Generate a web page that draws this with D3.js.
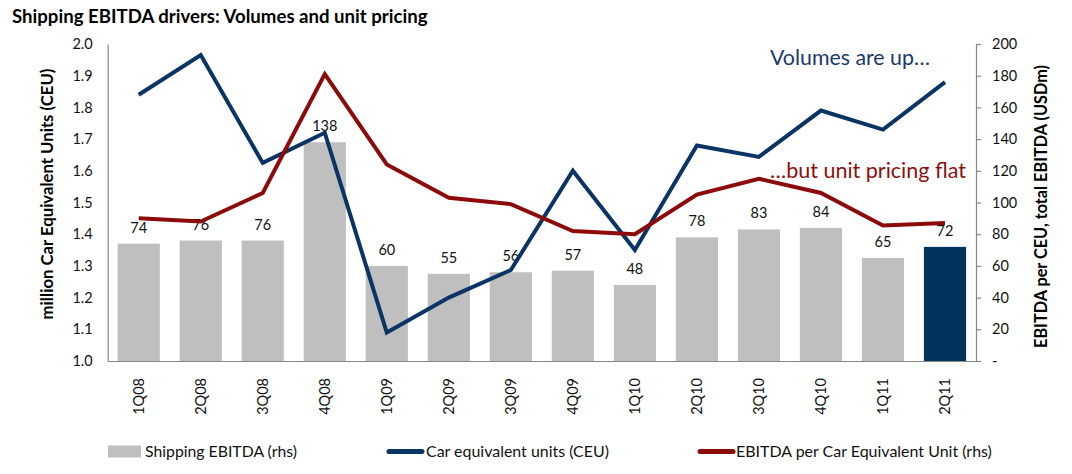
<!DOCTYPE html>
<html><head><meta charset="utf-8">
<script src="https://cdn.jsdelivr.net/npm/d3@7/dist/d3.min.js"></script>
<style>body{margin:0;background:#fff}svg{display:block;font-family:Lato, "Open Sans", sans-serif}</style>
</head><body><svg id="c" width="1072" height="474"></svg>
<script>
const categories = ["1Q08","2Q08","3Q08","4Q08","1Q09","2Q09","3Q09","4Q09","1Q10","2Q10","3Q10","4Q10","1Q11","2Q11"];
const shippingEbitda = [74,76,76,138,60,55,56,57,48,78,83,84,65,72];
const carEquivalentUnits = [1.84,1.965,1.625,1.72,1.09,1.20,1.287,1.60,1.35,1.68,1.644,1.79,1.73,1.88];
const ebitdaPerCeu = [90,88,106,181,124,103,99,82,80,105,115,106,85.5,87];
const leftTicks = [1.0,1.1,1.2,1.3,1.4,1.5,1.6,1.7,1.8,1.9,2.0];
const rightTicks = [0,20,40,60,80,100,120,140,160,180,200];

const NAVY = "#0a3464", RED = "#8c0a0a", GREY = "#bfbfbf", AXIS = "#868686", TXT = "#111";
const svg = d3.select("#c");
const L = 107.7, R = 976, T = 44, B = 361;

const x = d3.scaleBand().domain(categories).range([L, R]).paddingInner(0.32).paddingOuter(0.16);
const yL = d3.scaleLinear().domain([1.0, 2.0]).range([B, T]);
const yR = d3.scaleLinear().domain([0, 200]).range([B, T]);

function fit(sel, target) {
  const w = sel.node().getComputedTextLength();
  const fs = parseFloat(sel.attr("font-size"));
  sel.attr("font-size", (fs * target / w).toFixed(2));
  return sel;
}

// title
fit(svg.append("text").attr("x", 12).attr("y", 23).attr("font-size", 18).attr("font-weight", "bold")
  .attr("fill", "#000").text("Shipping EBITDA drivers: Volumes and unit pricing"), 416);

// bars
svg.append("g").selectAll("rect").data(categories).join("rect")
  .attr("x", d => x(d)).attr("width", x.bandwidth())
  .attr("y", (d, i) => yR(shippingEbitda[i])).attr("height", (d, i) => B - yR(shippingEbitda[i]))
  .attr("fill", (d, i) => i === categories.length - 1 ? "#02335f" : GREY);

// bar labels
svg.append("g").selectAll("text").data(categories).join("text")
  .attr("x", d => x(d) + x.bandwidth() / 2).attr("y", (d, i) => yR(shippingEbitda[i]) - 11)
  .attr("text-anchor", "middle").attr("font-size", 14.5).attr("fill", TXT)
  .text((d, i) => shippingEbitda[i]);

// axes
const gL = svg.append("g").attr("transform", `translate(${L},0)`)
  .call(d3.axisLeft(yL).tickValues(leftTicks).tickFormat(d3.format(".1f")).tickSize(0).tickPadding(15));
const gR = svg.append("g").attr("transform", `translate(${R},0)`)
  .call(d3.axisRight(yR).tickValues(rightTicks).tickFormat(d => d === 0 ? "-" : d).tickSize(5).tickPadding(11));
const gB = svg.append("g").attr("transform", `translate(0,${B})`)
  .call(d3.axisBottom(x).tickSize(0).tickSizeOuter(0));
[gL, gR, gB].forEach(g => {
  g.selectAll("path,line").attr("stroke", AXIS).attr("stroke-width", 1.2);
  g.selectAll("text").attr("font-family", "Lato").attr("font-size", 14.5).attr("fill", TXT);
});
gB.selectAll("text").attr("transform", "rotate(-90)").attr("x", -17).attr("y", 0)
  .attr("dy", "0.36em").attr("text-anchor", "end");

// axis titles
fit(svg.append("text").attr("transform", "translate(53,194) rotate(-90)").attr("text-anchor", "middle")
  .attr("font-size", 14.5).attr("font-weight", "bold").attr("fill", "#000")
  .text("million Car Equivalent Units (CEU)"), 251);
fit(svg.append("text").attr("transform", "translate(1047,206.5) rotate(-90)").attr("text-anchor", "middle")
  .attr("font-size", 14.5).attr("font-weight", "bold").attr("fill", "#000")
  .text("EBITDA per CEU, total EBITDA (USDm)"), 283);

// lines
const cx = d => x(d) + x.bandwidth() / 2;
svg.append("path").datum(categories)
  .attr("d", d3.line().x(cx).y((d, i) => yL(carEquivalentUnits[i])))
  .attr("fill", "none").attr("stroke", NAVY).attr("stroke-width", 4);
svg.append("path").datum(categories)
  .attr("d", d3.line().x(cx).y((d, i) => yR(ebitdaPerCeu[i])))
  .attr("fill", "none").attr("stroke", RED).attr("stroke-width", 4);

// annotations
fit(svg.append("text").attr("x", 770).attr("y", 65).attr("font-size", 21).attr("fill", "#1b3a6b")
  .text("Volumes are up…"), 160);
fit(svg.append("text").attr("x", 770).attr("y", 178).attr("font-size", 21).attr("fill", "#8b1010")
  .text("…but unit pricing flat"), 196);

// legend
const lg = svg.append("g");
lg.append("rect").attr("x", 108).attr("y", 445.5).attr("width", 33).attr("height", 12).attr("fill", GREY);
fit(lg.append("text").attr("x", 145).attr("y", 457).attr("font-size", 15).attr("fill", TXT).text("Shipping EBITDA (rhs)"), 152);
lg.append("line").attr("x1", 389).attr("x2", 422).attr("y1", 451.5).attr("y2", 451.5)
  .attr("stroke", NAVY).attr("stroke-width", 5).attr("stroke-linecap", "round");
fit(lg.append("text").attr("x", 426).attr("y", 457).attr("font-size", 15).attr("fill", TXT).text("Car equivalent units (CEU)"), 183);
lg.append("line").attr("x1", 700).attr("x2", 733).attr("y1", 451.5).attr("y2", 451.5)
  .attr("stroke", RED).attr("stroke-width", 5).attr("stroke-linecap", "round");
fit(lg.append("text").attr("x", 736).attr("y", 457).attr("font-size", 15).attr("fill", TXT).text("EBITDA per Car Equivalent Unit (rhs)"), 256);
</script></body></html>
